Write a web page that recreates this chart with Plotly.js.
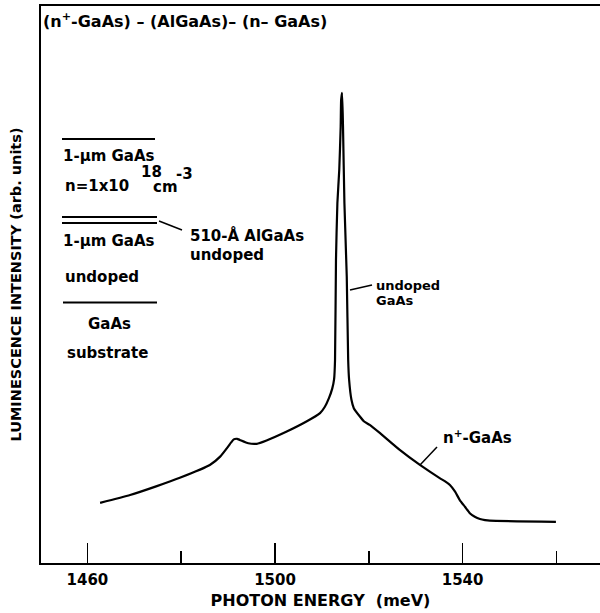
<!DOCTYPE html>
<html>
<head>
<meta charset="utf-8">
<script src="https://cdn.plot.ly/plotly-3.0.1.min.js"></script>
<style>html,body{margin:0;padding:0;background:#fff;}#chart{width:600px;height:613px;}</style>
</head>
<body>
<div id="chart"></div>
<script>
// Photon energy (meV) and luminescence intensity (arb. units, 0-100 frame scale)
const energy = [1462.7, 1469.1, 1474.8, 1479.7, 1486.1, 1488.3, 1490.0, 1490.6, 1491.2, 1491.9, 1492.5, 1494.3, 1496.1, 1498.2, 1502.5, 1506.7, 1509.6, 1510.6, 1511.5, 1512.2, 1512.6, 1512.8, 1513.0, 1513.3, 1513.7, 1514.0, 1514.1, 1514.3, 1514.5, 1514.8, 1515.3, 1515.6, 1515.8, 1516.3, 1516.8, 1518.1, 1519.0, 1520.2, 1522.4, 1526.6, 1530.9, 1535.2, 1536.2, 1537.3, 1538.4, 1539.4, 1540.5, 1541.6, 1542.6, 1543.7, 1544.8, 1545.8, 1559.9];
const intensity = [10.8, 12.2, 13.8, 15.3, 17.6, 19.1, 20.9, 21.6, 22.2, 22.3, 22.1, 21.5, 21.4, 22.0, 23.6, 25.4, 26.9, 28.0, 29.6, 31.3, 33.0, 36.5, 54.4, 64.6, 70.6, 78.3, 83.1, 84.4, 78.3, 64.6, 51.4, 36.5, 32.9, 29.3, 27.8, 26.3, 25.4, 24.8, 23.3, 20.3, 17.6, 15.2, 14.7, 14.0, 12.8, 11.3, 10.1, 8.9, 8.3, 7.9, 7.7, 7.6, 7.4];

const majorTicks = [1460, 1500, 1540];
const minorTicks = [1480, 1520, 1560];

const titleText = "(n<sup>+</sup>-GaAs) – (AlGaAs)– (n– GaAs)";
const xTitle = "PHOTON ENERGY  (meV)";
const yTitle = "LUMINESCENCE INTENSITY (arb. units)";

const FONT = "DejaVu Sans";
const L = 41, T = 6, W = 559, H = 557;
const px = x => (x - L) / W;
const py = y => (T + H - y) / H;

function txt(text, x, y, size, anchor) {
  return {text: text, x: px(x), y: py(y), xref: 'paper', yref: 'paper',
    xanchor: anchor || 'left', yanchor: 'middle', showarrow: false,
    font: {family: FONT, size: size, color: '#000', weight: 'bold'}};
}
function seg(x0, y0, x1, y1, w) {
  return {type: 'line', xref: 'paper', yref: 'paper', x0: px(x0), y0: py(y0), x1: px(x1), y1: py(y1),
    line: {color: '#000', width: w || 1.8}};
}

const annotations = [
  txt(titleText, 41, 20, 16),
  txt("1-μm GaAs", 61, 156, 15),
  txt("n=1x10", 63, 186, 15),
  txt("18", 139, 172, 15),
  txt("cm", 151, 187, 15),
  txt("-3", 174, 174, 15),
  txt("1-μm GaAs", 61, 241, 15),
  txt("undoped", 63, 277, 15),
  txt("GaAs", 109, 324, 15, 'center'),
  txt("substrate", 107, 353, 15, 'center'),
  txt("510-Å AlGaAs", 188, 235, 15),
  txt("undoped", 188, 255, 15),
  txt("undoped", 374, 285, 13),
  txt("GaAs", 374, 300, 13),
  txt("n<sup>+</sup>-GaAs", 441, 437, 15)
];

const shapes = [
  seg(62, 139, 155, 139),
  seg(62, 217, 157, 217),
  seg(62, 223, 157, 223),
  seg(63, 302.5, 157, 302.5),
  seg(159, 221, 182, 230, 1.5),
  seg(350, 290, 372, 285, 1.5),
  seg(420, 465, 437, 447, 1.5)
];

const trace = {x: energy, y: intensity, type: 'scatter', mode: 'lines',
  line: {color: '#000', width: 2.2, shape: 'spline', smoothing: 0.5}, hoverinfo: 'skip'};

const layout = {
  width: 600, height: 613,
  margin: {l: L, r: 600 - L - W, t: T, b: 613 - T - H},
  paper_bgcolor: '#fff', plot_bgcolor: '#fff',
  showlegend: false,
  xaxis: {range: [1450.1, 1569.3], showgrid: false, zeroline: false,
    showline: true, linecolor: '#000', linewidth: 2, mirror: true,
    tickmode: 'array', tickvals: majorTicks, ticktext: majorTicks.map(String),
    ticks: 'inside', ticklen: 20, tickwidth: 1.6, tickcolor: '#000',
    ticklabelstandoff: 2,
    minor: {tickmode: 'array', tickvals: minorTicks, ticks: 'inside', ticklen: 12, tickwidth: 1.6, tickcolor: '#000', showgrid: false},
    tickfont: {family: FONT, size: 15, color: '#000', weight: 'bold'},
    title: {text: xTitle, standoff: 7, font: {family: FONT, size: 16, color: '#000', weight: 'bold'}}},
  yaxis: {range: [0, 100], showgrid: false, zeroline: false,
    showline: true, linecolor: '#000', linewidth: 1.6, mirror: false,
    ticks: '', showticklabels: false,
    title: {text: yTitle, standoff: 14, font: {family: FONT, size: 14.5, color: '#000', weight: 'bold'}}},
  annotations: annotations,
  shapes: shapes
};

Plotly.newPlot('chart', [trace], layout, {displayModeBar: false, staticPlot: true});
</script>
</body>
</html>
